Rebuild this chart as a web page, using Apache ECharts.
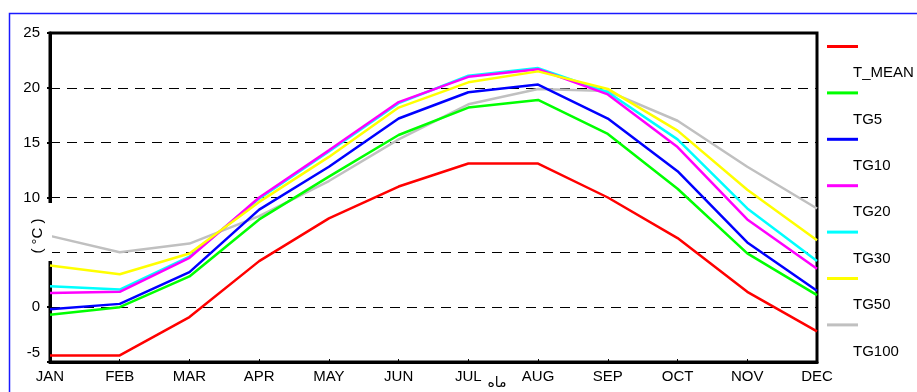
<!DOCTYPE html>
<html>
<head>
<meta charset="utf-8">
<script src="https://cdn.jsdelivr.net/npm/echarts@6/dist/echarts.min.js"></script>
<style>
html,body{margin:0;padding:0;background:#fff;}
#chart{width:917px;height:392px;}
</style>
</head>
<body>
<div id="chart"></div>
<script>
const months = ['JAN','FEB','MAR','APR','MAY','JUN','JUL','AUG','SEP','OCT','NOV','DEC'];
const seriesNames = ['T_MEAN','TG5','TG10','TG20','TG30','TG50','TG100'];
const seriesColors = ['#ff0000','#00ff00','#0000ff','#ff00ff','#00ffff','#ffff00','#c0c0c0'];
const tMean = [-4.4,-4.4,-0.9,4.2,8.1,11.0,13.1,13.1,10.0,6.3,1.4,-2.2];
const tg5   = [-0.7,0.0,2.8,8.0,11.9,15.7,18.2,18.9,15.8,10.8,4.9,1.1];
const tg10  = [-0.2,0.3,3.2,8.9,12.8,17.2,19.6,20.3,17.2,12.4,5.9,1.5];
const tg20  = [1.3,1.4,4.5,10.0,14.3,18.7,21.0,21.7,19.4,14.6,8.0,3.5];
const tg30  = [1.9,1.6,4.6,9.9,14.2,18.6,21.1,21.8,19.6,15.3,9.0,4.2];
const tg50  = [3.8,3.0,4.9,9.6,13.7,18.2,20.5,21.5,19.9,16.1,10.7,6.1];
const tg100 = [6.5,5.0,5.8,8.3,11.5,15.3,18.5,19.9,19.7,17.0,12.8,9.0];
const yTicks = {min:-5, max:25, interval:5};
const yName = '( °C )';
const xName = 'ماه';

const allData = [tMean,tg5,tg10,tg20,tg30,tg50,tg100];
const drawOrder = [6,0,1,2,4,3,5];

const chart = echarts.init(document.getElementById('chart'), null, {renderer:'canvas'});

const series = drawOrder.map(i => ({
  name: seriesNames[i],
  type: 'line',
  data: allData[i],
  symbol: 'none',
  smooth: false,
  z: 2 + drawOrder.indexOf(i) * 0.01,
  lineStyle: {color: seriesColors[i], width: 2.5},
  itemStyle: {color: seriesColors[i]}
}));

const graphics = [
  {type:'rect', z:100, shape:{x:9.5, y:13.5, width:2000, height:2000}, style:{fill:'none', stroke:'#1a1aff', lineWidth:1.5}},
  {type:'rect', z:100, shape:{x:27, y:203, width:25, height:58}, style:{fill:'#fff'}},
  {type:'text', z:101, x:38, y:236, rotation:Math.PI/2,
    style:{text:yName, font:'15px "Liberation Sans", Arial, sans-serif', fill:'#000', textAlign:'center', textVerticalAlign:'middle'}},
  {type:'text', z:101, x:497, y:383,
    style:{text:xName, font:'14px "DejaVu Sans", "Noto Sans", sans-serif', fill:'#000', textAlign:'center', textVerticalAlign:'middle'}}
];
seriesNames.forEach((n, i) => {
  graphics.push({type:'text', z:101, x:853, y:73 + i*46.4,
    style:{text:n, font:'15px "Liberation Sans", Arial, sans-serif', fill:'#000', textAlign:'left', textVerticalAlign:'middle'}});
});

chart.setOption({
  animation: false,
  backgroundColor: '#fff',
  grid: {left:50, right:100, top:33, bottom:30, show:true, borderColor:'#000', borderWidth:3, backgroundColor:'transparent'},
  legend: {
    orient:'vertical', left:827, top:45, padding:0,
    itemWidth:31, itemHeight:3, itemGap:43.4,
    icon:'rect',
    data: seriesNames.map((n,i)=>({name:n, itemStyle:{color:seriesColors[i]}})),
    formatter: () => '',
    textStyle:{fontSize:1},
    selectedMode:false
  },
  xAxis: {
    type:'category', data: months, boundaryGap:false,
    axisLine:{onZero:false, lineStyle:{color:'#000', width:3}},
    axisTick:{show:true, inside:true, length:3, lineStyle:{color:'#000'}},
    axisLabel:{color:'#000', fontSize:15, fontFamily:'"Liberation Sans", Arial, sans-serif', margin:7},
    splitLine:{show:false}
  },
  yAxis: {
    type:'value', min:yTicks.min, max:yTicks.max, interval:yTicks.interval,
    axisLine:{show:true, onZero:false, lineStyle:{color:'#000', width:3}},
    axisTick:{show:true, length:3, lineStyle:{color:'#000', width:2}},
    axisLabel:{color:'#000', fontSize:15, fontFamily:'"Liberation Sans", Arial, sans-serif', margin:10,
      formatter: v => v === yTicks.min ? '{lo|' + v + '}' : String(v),
      rich:{lo:{fontSize:15, fontFamily:'"Liberation Sans", Arial, sans-serif', color:'#000', padding:[0,0,18,0]}}},
    splitLine:{show:true, lineStyle:{color:'#000', width:1, type:[10,7]}}
  },
  graphic: graphics,
  series: series
});
</script>
</body>
</html>
